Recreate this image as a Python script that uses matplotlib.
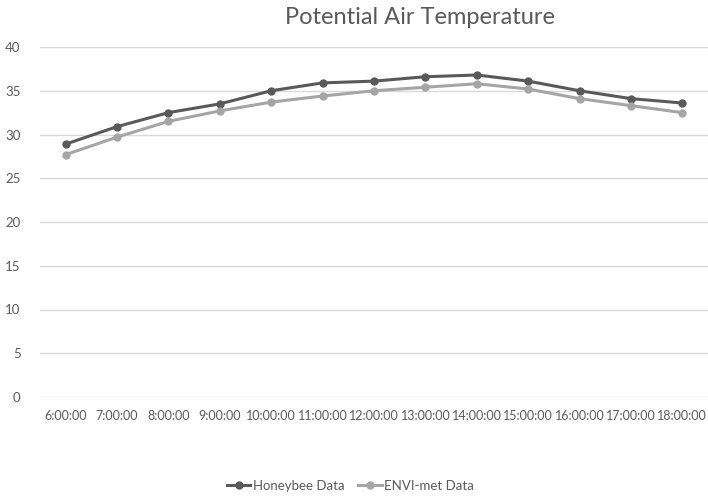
import matplotlib.pyplot as plt

times = ["6:00:00", "7:00:00", "8:00:00", "9:00:00", "10:00:00", "11:00:00", "12:00:00",
         "13:00:00", "14:00:00", "15:00:00", "16:00:00", "17:00:00", "18:00:00"]
honeybee = [28.9, 30.9, 32.5, 33.5, 35.0, 35.9, 36.1, 36.6, 36.8, 36.1, 35.0, 34.1, 33.6]
envimet = [27.7, 29.7, 31.5, 32.7, 33.7, 34.4, 35.0, 35.4, 35.8, 35.2, 34.1, 33.3, 32.5]

plt.rcParams['font.family'] = ['Lato', 'DejaVu Sans']
txt = "#595959"

fig = plt.figure(figsize=(7.08, 4.97), dpi=100)
ax = fig.add_axes([40 / 708, 1 - 397 / 497, 668 / 708, 350 / 497])

x = range(len(times))
ax.plot(x, honeybee, color="#595959", lw=2.2, marker="o", ms=5, label="Honeybee Data")
ax.plot(x, envimet, color="#A5A5A5", lw=2.2, marker="o", ms=5, label="ENVI-met Data")

ax.set_ylim(0, 40)
ax.set_yticks(range(0, 41, 5))
ax.set_xlim(-0.5, len(times) - 0.5)
ax.set_xticks(list(x))
ax.set_xticklabels(times)
ax.grid(axis="y", color="#D9D9D9", lw=1)
ax.set_axisbelow(True)
for s in ax.spines.values():
    s.set_visible(False)
ax.tick_params(length=0, colors=txt, labelsize=9.5)
ax.tick_params(axis="x", pad=9, labelsize=9)
ax.tick_params(axis="y", pad=14)

fig.text(0.593, 0.965, "Potential Air Temperature", ha="center", va="center",
         fontsize=17, color=txt)
fig.legend(loc="center", bbox_to_anchor=(0.495, 0.022), ncol=2, frameon=False,
           fontsize=9.5, labelcolor=txt, handlelength=1.8, handletextpad=0.2,
           columnspacing=1.0)

fig.savefig("out.png", dpi=100)
